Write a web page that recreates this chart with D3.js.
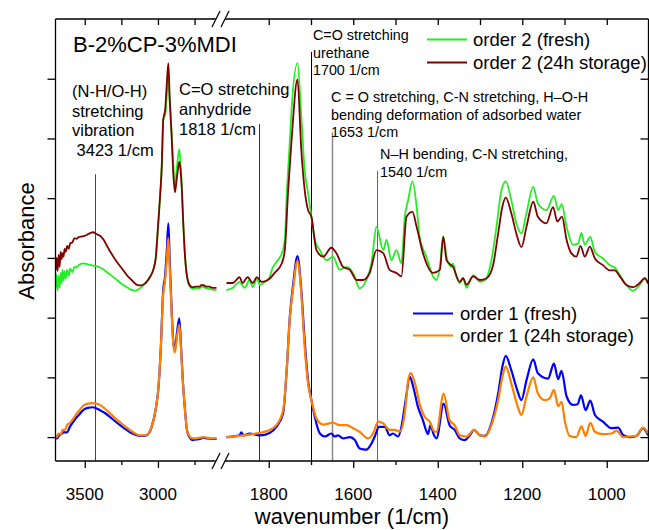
<!DOCTYPE html>
<html><head><meta charset="utf-8">
<script src="https://cdn.jsdelivr.net/npm/d3@7"></script>
<style>
body{margin:0;background:#fff}
svg{display:block}
text{font-family:'Liberation Sans',Arial,Helvetica,sans-serif;fill:#000}
</style>
</head><body>
<svg id="c" width="649" height="530"></svg>
<script>
// ---------------- DATA ----------------
const segLeftDomain = [3700, 2600];
const segRightDomain = [1900, 900];
const leftMajorTicks = [3500, 3000];
const leftMinorTicks = [3250, 2750];
const rightMajorTicks = [1800, 1600, 1400, 1200, 1000];
const rightMinorTicks = [1700, 1500, 1300, 1100];
const yTicks = [0, 1, 2, 3, 4, 5, 6];
const yDomain = [-0.4, 7.0];

const order2FreshLeft = [[3700,2.51],[3693,2.72],[3686,2.45],[3679,2.70],[3672,2.50],[3665,2.75],[3658,2.58],[3652,2.80],[3645,2.62],[3638,2.78],[3630,2.66],[3620,2.80],[3610,2.70],[3600,2.82],[3585,2.76],[3570,2.85],[3557,2.84],[3540,2.88],[3516,2.91],[3490,2.90],[3460,2.88],[3420,2.86],[3396,2.84],[3370,2.80],[3348,2.76],[3315,2.70],[3280,2.63],[3245,2.56],[3212,2.51],[3185,2.47],[3157,2.45],[3130,2.48],[3100,2.54],[3077,2.60],[3055,2.68],[3032,2.80],[3015,3.00],[2998,3.58],[2985,4.05],[2974,4.53],[2964,5.31],[2950,5.40],[2940,5.70],[2930,6.05],[2920,5.60],[2906,5.09],[2895,4.55],[2884,4.20],[2875,4.40],[2865,4.65],[2854,4.82],[2845,4.55],[2838,4.25],[2827,3.58],[2815,3.02],[2805,2.75],[2793,2.58],[2775,2.50],[2758,2.48],[2740,2.49],[2716,2.49],[2700,2.52],[2685,2.51],[2670,2.49],[2650,2.48],[2628,2.47],[2600,2.46]];
const order2StoredLeft = [[3700,2.80],[3693,3.00],[3686,2.78],[3679,3.05],[3672,2.85],[3665,3.10],[3658,2.98],[3652,3.08],[3645,3.02],[3638,3.15],[3630,3.10],[3620,3.20],[3610,3.15],[3600,3.24],[3585,3.26],[3570,3.33],[3557,3.32],[3540,3.35],[3516,3.36],[3490,3.38],[3460,3.42],[3444,3.43],[3420,3.40],[3396,3.37],[3370,3.30],[3348,3.20],[3315,3.06],[3280,2.93],[3245,2.82],[3212,2.71],[3180,2.63],[3143,2.55],[3115,2.54],[3090,2.57],[3077,2.60],[3055,2.68],[3032,2.80],[3015,3.00],[2998,3.58],[2985,4.05],[2974,4.53],[2964,5.31],[2950,5.50],[2940,5.90],[2929,6.26],[2920,5.70],[2906,5.00],[2895,4.40],[2884,4.10],[2875,4.25],[2865,4.45],[2854,4.61],[2845,4.45],[2838,4.20],[2827,3.58],[2815,3.02],[2805,2.75],[2793,2.60],[2775,2.52],[2758,2.51],[2740,2.52],[2716,2.52],[2700,2.55],[2685,2.54],[2670,2.52],[2650,2.52],[2628,2.50],[2600,2.50]];
const order1FreshLeft = [[3700,-0.02],[3690,-0.02],[3675,0.03],[3660,0.05],[3645,0.08],[3621,0.08],[3600,0.18],[3575,0.27],[3553,0.34],[3530,0.40],[3512,0.45],[3480,0.49],[3444,0.50],[3420,0.48],[3396,0.45],[3360,0.40],[3328,0.34],[3295,0.27],[3259,0.20],[3225,0.14],[3191,0.08],[3155,0.04],[3123,0.02],[3100,0.02],[3077,0.03],[3043,0.17],[3013,0.50],[2998,0.79],[2981,1.46],[2964,2.46],[2952,2.68],[2940,3.10],[2929,3.58],[2920,3.00],[2906,2.10],[2895,1.60],[2884,1.46],[2870,1.75],[2854,1.99],[2842,1.50],[2829,0.90],[2815,0.45],[2802,0.12],[2785,0.00],[2767,-0.05],[2740,-0.04],[2713,-0.03],[2690,-0.01],[2665,-0.02],[2640,-0.03],[2610,-0.03],[2600,-0.03]];
const order1StoredLeft = [[3700,0.03],[3690,0.00],[3680,0.06],[3665,0.05],[3650,0.12],[3635,0.12],[3621,0.20],[3600,0.24],[3575,0.32],[3553,0.40],[3530,0.47],[3512,0.52],[3480,0.56],[3444,0.57],[3420,0.56],[3396,0.54],[3360,0.47],[3328,0.40],[3295,0.32],[3259,0.25],[3225,0.18],[3191,0.12],[3155,0.06],[3123,0.03],[3100,0.03],[3077,0.04],[3043,0.17],[3013,0.50],[2998,0.79],[2981,1.46],[2964,2.40],[2952,2.60],[2940,2.95],[2929,3.33],[2920,2.85],[2906,2.05],[2895,1.55],[2884,1.42],[2870,1.68],[2854,1.88],[2842,1.45],[2829,0.90],[2815,0.45],[2802,0.12],[2785,0.02],[2767,-0.02],[2740,-0.02],[2713,-0.01],[2690,0.00],[2665,-0.01],[2640,-0.02],[2610,-0.02],[2600,-0.02]];

const order2FreshRight = [[1900,2.46],[1885,2.50],[1869,2.60],[1857,2.50],[1845,2.63],[1838,2.51],[1828,2.65],[1821,2.55],[1809,2.60],[1798,2.68],[1791,2.83],[1779,2.96],[1769,3.08],[1762,3.30],[1758,3.97],[1750,4.97],[1746,5.48],[1732,6.26],[1723,5.37],[1715,4.47],[1707,4.09],[1699,3.69],[1691,3.30],[1679,3.13],[1663,2.96],[1648,3.02],[1632,2.80],[1616,2.85],[1600,2.74],[1585,2.49],[1569,2.63],[1557,2.91],[1545,3.52],[1529,3.13],[1521,3.30],[1510,2.96],[1498,3.13],[1486,2.91],[1478,3.69],[1470,3.97],[1460,4.28],[1450,3.86],[1443,3.36],[1427,3.02],[1411,2.69],[1403,2.63],[1395,2.85],[1387,3.36],[1379,3.02],[1368,2.85],[1364,2.91],[1356,2.69],[1348,2.58],[1340,2.66],[1332,2.50],[1316,2.71],[1300,2.60],[1288,2.63],[1273,2.96],[1261,3.52],[1249,4.14],[1239,4.28],[1226,3.97],[1214,3.58],[1202,3.41],[1190,3.75],[1174,4.19],[1163,3.91],[1143,3.80],[1125,4.04],[1115,3.80],[1107,3.90],[1095,3.52],[1080,3.22],[1068,3.24],[1060,3.42],[1052,3.22],[1039,3.35],[1028,3.10],[1009,2.99],[993,2.88],[981,2.84],[969,2.71],[954,2.55],[938,2.45],[922,2.55],[910,2.66],[902,2.57]];
const order2StoredRight = [[1900,2.58],[1885,2.58],[1869,2.68],[1862,2.58],[1850,2.68],[1838,2.58],[1828,2.68],[1817,2.60],[1802,2.63],[1786,2.75],[1769,2.91],[1762,3.13],[1754,4.14],[1746,4.97],[1732,5.99],[1723,4.81],[1715,4.14],[1707,3.80],[1699,3.69],[1687,3.13],[1671,3.02],[1652,3.17],[1640,3.08],[1624,2.85],[1608,2.80],[1592,2.63],[1577,2.63],[1561,2.75],[1545,3.13],[1529,3.08],[1514,2.80],[1498,2.75],[1486,2.69],[1474,3.69],[1460,3.77],[1450,3.52],[1435,3.08],[1411,2.75],[1395,2.80],[1387,3.35],[1379,2.96],[1364,2.85],[1348,2.60],[1340,2.66],[1332,2.55],[1316,2.69],[1300,2.63],[1284,2.66],[1269,2.88],[1257,3.41],[1247,3.86],[1239,4.01],[1226,3.75],[1214,3.41],[1202,3.18],[1190,3.52],[1174,3.94],[1163,3.69],[1143,3.58],[1127,3.85],[1117,3.61],[1106,3.69],[1095,3.30],[1084,3.08],[1072,3.02],[1062,3.20],[1052,3.02],[1040,3.19],[1028,2.99],[1009,2.88],[993,2.79],[981,2.79],[969,2.69],[954,2.55],[938,2.51],[922,2.58],[910,2.66],[902,2.57]];
const order1FreshRight = [[1900,0.00],[1869,0.03],[1865,0.08],[1860,0.03],[1845,0.06],[1821,0.03],[1798,0.07],[1782,0.17],[1766,0.40],[1758,1.07],[1750,2.02],[1742,2.57],[1732,3.03],[1723,2.46],[1715,1.62],[1707,0.95],[1699,0.62],[1691,0.34],[1679,0.06],[1667,0.01],[1652,0.06],[1644,0.01],[1636,0.03],[1624,-0.02],[1608,0.00],[1596,-0.05],[1585,-0.19],[1569,-0.21],[1557,-0.11],[1549,0.01],[1539,0.17],[1525,0.17],[1514,0.03],[1506,0.06],[1494,0.01],[1486,0.17],[1476,0.62],[1466,1.01],[1458,0.84],[1447,0.51],[1435,0.28],[1427,0.10],[1423,0.05],[1417,0.20],[1410,0.05],[1403,-0.02],[1386,0.56],[1372,0.20],[1360,0.12],[1348,-0.02],[1336,-0.05],[1324,0.03],[1314,0.12],[1300,0.03],[1288,0.02],[1273,0.23],[1257,0.73],[1247,1.18],[1239,1.36],[1226,1.12],[1212,0.79],[1202,0.62],[1190,0.95],[1174,1.30],[1163,1.07],[1139,0.98],[1125,1.23],[1115,0.97],[1107,1.11],[1095,0.68],[1080,0.54],[1069,0.55],[1061,0.70],[1050,0.45],[1039,0.61],[1028,0.37],[1009,0.26],[989,0.15],[973,0.16],[961,0.03],[946,0.00],[930,0.02],[914,0.15],[902,0.03]];
const order1StoredRight = [[1900,0.00],[1838,0.05],[1798,0.12],[1782,0.20],[1766,0.45],[1758,1.07],[1750,2.00],[1742,2.50],[1732,2.95],[1723,2.40],[1715,1.51],[1707,0.90],[1699,0.62],[1687,0.31],[1671,0.21],[1648,0.24],[1632,0.20],[1616,0.20],[1600,0.15],[1585,0.09],[1565,-0.02],[1553,0.06],[1541,0.26],[1529,0.23],[1514,0.12],[1502,0.12],[1490,0.09],[1478,0.40],[1470,0.95],[1464,1.07],[1454,0.90],[1443,0.56],[1431,0.34],[1419,0.26],[1407,0.09],[1403,0.09],[1386,0.73],[1372,0.28],[1360,0.20],[1348,0.03],[1332,0.01],[1314,0.12],[1300,0.03],[1288,0.01],[1273,0.20],[1257,0.62],[1247,1.01],[1239,1.18],[1226,0.90],[1212,0.54],[1202,0.37],[1190,0.68],[1174,1.00],[1163,0.73],[1147,0.62],[1135,0.65],[1125,0.79],[1115,0.52],[1107,0.59],[1099,0.26],[1088,0.02],[1072,0.00],[1060,0.18],[1050,0.02],[1039,0.24],[1028,0.09],[1009,0.05],[989,0.06],[977,0.11],[961,0.00],[946,0.01],[930,0.02],[914,0.16],[902,0.06]];

const markerWn = [3430, 1823, 1701, 1651, 1543];
const markerTop = [4.40, 5.24, 6.45, 5.10, 4.46];
const markerColor = ["#444", "#333", "#000", "#888", "#666"];

const seriesNames = ["order 2 (fresh)", "order 2 (24h storage)", "order 1 (fresh)", "order 1 (24h storage)"];
const seriesColors = ["#22ee22", "#800000", "#0000ff", "#ff8000"];

// ---------------- CHART ----------------
(function () {
const svg = d3.select("#c");
const PT = 19, PB = 461, PL = 55.5, PR = 648.5;
const xL = d3.scaleLinear().domain(segLeftDomain).range([55.5, 216.5]);
const xR = d3.scaleLinear().domain(segRightDomain).range([226.5, 649]);
const y = d3.scaleLinear().domain(yDomain).range([PB, PT]);

const defs = svg.append("defs");
defs.append("clipPath").attr("id", "clipL").append("rect")
  .attr("x", PL).attr("y", PT).attr("width", 217.5 - PL).attr("height", PB - PT);
defs.append("clipPath").attr("id", "clipR").append("rect")
  .attr("x", 225.5).attr("y", PT).attr("width", PR - 225.5).attr("height", PB - PT);

function lineFor(xs) {
  return d3.line().x(d => xs(d[0])).y(d => y(d[1])).curve(d3.curveMonotoneX);
}

const gMark = svg.append("g");
markerWn.forEach((w, i) => {
  const xs = w > 2000 ? xL : xR;
  const xx = Math.round(xs(w)) + 0.5;
  gMark.append("line")
    .attr("x1", xx).attr("x2", xx)
    .attr("y1", y(markerTop[i])).attr("y2", PB)
    .attr("stroke", markerColor[i]).attr("stroke-width", i === 3 ? 1.5 : 1);
});

const segData = [
  [order2FreshLeft, order2StoredLeft, order1FreshLeft, order1StoredLeft],
  [order2FreshRight, order2StoredRight, order1FreshRight, order1StoredRight]
];
const drawOrder = [0, 1, 2, 3];
[["clipL", xL, segData[0]], ["clipR", xR, segData[1]]].forEach(([clip, xs, arrs]) => {
  const g = svg.append("g").attr("clip-path", `url(#${clip})`);
  drawOrder.forEach(k => {
    g.append("path").datum(arrs[k])
      .attr("d", lineFor(xs))
      .attr("fill", "none")
      .attr("stroke", seriesColors[k])
      .attr("stroke-width", k >= 2 ? 2.2 : 1.8)
      .attr("stroke-linejoin", "round");
  });
});

const frame = svg.append("g").attr("stroke", "#000").attr("stroke-width", 1.3).attr("fill", "none");
frame.append("line").attr("x1", PL).attr("x2", PL).attr("y1", PT).attr("y2", PB);
frame.append("line").attr("x1", PR).attr("x2", PR).attr("y1", PT).attr("y2", PB);
[PT, PB].forEach(yy => {
  frame.append("line").attr("x1", PL).attr("x2", 216).attr("y1", yy).attr("y2", yy);
  frame.append("line").attr("x1", 225).attr("x2", PR).attr("y1", yy).attr("y2", yy);
  [216, 225].forEach(cx => {
    frame.append("line").attr("x1", cx - 4).attr("y1", yy + 8).attr("x2", cx + 4).attr("y2", yy - 8)
      .attr("stroke-width", 1.2);
  });
});

function tickAxis(axisGen, scale, vals, size, tx, ty) {
  const g = svg.append("g").attr("transform", `translate(${tx},${ty})`)
    .call(axisGen(scale).tickValues(vals).tickSize(size).tickFormat(""));
  g.select(".domain").remove();
  g.selectAll("line").attr("stroke", "#000").attr("stroke-width", 1.3);
  return g;
}
tickAxis(d3.axisBottom, xL, leftMajorTicks, 7, 0, PB);
tickAxis(d3.axisBottom, xL, leftMinorTicks, 4, 0, PB);
tickAxis(d3.axisBottom, xR, rightMajorTicks, 7, 0, PB);
tickAxis(d3.axisBottom, xR, rightMinorTicks, 4, 0, PB);
tickAxis(d3.axisBottom, xL, leftMajorTicks.concat(leftMinorTicks), 6, 0, PT);
tickAxis(d3.axisBottom, xR, rightMajorTicks.concat(rightMinorTicks), 6, 0, PT);
tickAxis(d3.axisLeft, y, yTicks, 8, PL, 0);
tickAxis(d3.axisLeft, y, yTicks, 8, PR, 0);

const lab = svg.append("g").attr("font-size", "17px").attr("text-anchor", "middle");
leftMajorTicks.forEach(v => lab.append("text").attr("x", xL(v)).attr("y", 500).text(v));
rightMajorTicks.forEach(v => lab.append("text").attr("x", xR(v)).attr("y", 500).text(v));

svg.append("text").attr("x", 352).attr("y", 524).attr("text-anchor", "middle")
  .attr("font-size", "22px").text("wavenumber (1/cm)");
svg.append("text").attr("transform", "translate(34,241) rotate(-90)").attr("text-anchor", "middle")
  .attr("font-size", "22px").text("Absorbance");

svg.append("text").attr("x", 73).attr("y", 52).attr("font-size", "22px").text("B-2%CP-3%MDI");

function block(x, y0, dy, size, lines) {
  const t = svg.append("g").attr("font-size", size);
  lines.forEach((s, i) => t.append("text").attr("x", x).attr("y", y0 + i * dy)
    .style("white-space", "pre").text(s));
}
block(72, 97, 19.7, "16.5px", ["(N-H/O-H)", "stretching", "vibration", " 3423 1/cm"]);
block(179, 95, 20, "16.5px", ["C=O stretching", "anhydride", "1818 1/cm"]);
block(313, 40, 17.6, "14.3px", ["C=O stretching", "urethane", "1700 1/cm"]);
block(331, 102, 17.7, "14.4px", ["C = O stretching, C-N stretching, H\u2013O-H", "bending deformation of adsorbed water", "1653 1/cm"]);
block(380, 159, 18, "14.4px", ["N\u2013H bending, C-N stretching,", "1540 1/cm"]);

function legend(x1, x2, tx, ys, idx) {
  idx.forEach((k, i) => {
    svg.append("line").attr("x1", x1).attr("x2", x2).attr("y1", ys[i]).attr("y2", ys[i])
      .attr("stroke", seriesColors[k]).attr("stroke-width", 2);
    svg.append("text").attr("x", tx).attr("y", ys[i] + 6.5).attr("font-size", "18.5px").text(seriesNames[k]);
  });
}
legend(427, 467, 473, [39.5, 62.5], [0, 1]);
legend(413, 453, 460, [313.5, 335.5], [2, 3]);
})();
</script>
</body></html>
